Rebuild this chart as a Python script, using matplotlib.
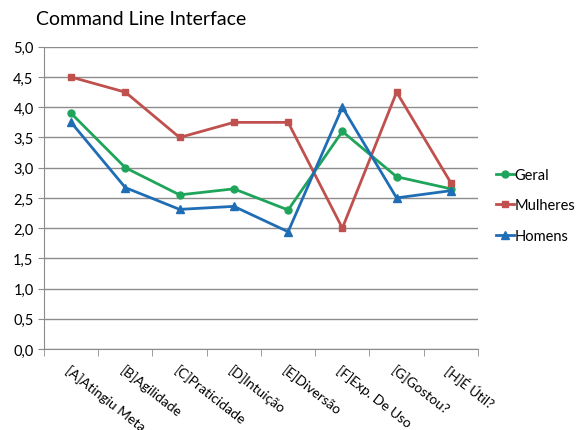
import numpy as np
import matplotlib
matplotlib.use("Agg")
import matplotlib.pyplot as plt
from matplotlib.ticker import FuncFormatter, MultipleLocator

plt.rcParams['font.family'] = ['Lato', 'DejaVu Sans']

categorias = ["[A]Atingiu Meta", "[B]Agilidade", "[C]Praticidade", "[D]Intuição",
              "[E]Diversão", "[F]Exp. De Uso", "[G]Gostou?", "[H]É Útil?"]
geral = [3.9, 3.0, 2.55, 2.65, 2.3, 3.6, 2.85, 2.65]
mulheres = [4.5, 4.25, 3.5, 3.75, 3.75, 2.0, 4.25, 2.75]
homens = [3.75, 2.67, 2.31, 2.36, 1.94, 4.0, 2.5, 2.62]

fig = plt.figure(figsize=(5.81, 4.31), dpi=100)
ax = fig.add_axes([0.0757, 0.188, 0.747, 0.701])

x = np.arange(len(categorias))
ax.plot(x, geral, color="#1fa55b", lw=2, marker="o", ms=5, label="Geral")
ax.plot(x, mulheres, color="#c0504d", lw=2, marker="s", ms=5, label="Mulheres")
ax.plot(x, homens, color="#1f6db5", lw=2, marker="^", ms=5.5, label="Homens")

ax.set_xlim(-0.5, len(categorias) - 0.5)
ax.set_ylim(0, 5)
ax.yaxis.set_major_locator(MultipleLocator(0.5))
ax.yaxis.set_major_formatter(FuncFormatter(lambda v, p: f"{v:.1f}".replace(".", ",")))
ax.grid(axis="y", color="#8c8c8c", lw=1)
ax.set_axisbelow(True)

# category labels at centres, tick marks at the boundaries
ax.set_xticks(x)
ax.set_xticklabels(categorias, rotation=-38, ha="left", va="top",
                   rotation_mode="anchor", fontsize=10)
ax.tick_params(axis="x", length=0, pad=10)
ax.set_xticks(np.arange(-0.5, len(categorias)), minor=True)
ax.tick_params(axis="x", which="minor", length=5, color="#8c8c8c")
ax.tick_params(axis="y", length=4, color="#8c8c8c", labelsize=10.5)

for s in ["top", "right"]:
    ax.spines[s].set_visible(False)
ax.spines["left"].set_color("#8c8c8c")
ax.spines["bottom"].set_color("#8c8c8c")

fig.text(0.062, 0.954, "Command Line Interface", fontsize=14, va="center")

ax.legend(loc="center left", bbox_to_anchor=(1.012, 0.475), frameon=False,
          fontsize=10.5, handlelength=1.2, handletextpad=0.05, labelspacing=1.15)

fig.savefig("out.png", dpi=100)
